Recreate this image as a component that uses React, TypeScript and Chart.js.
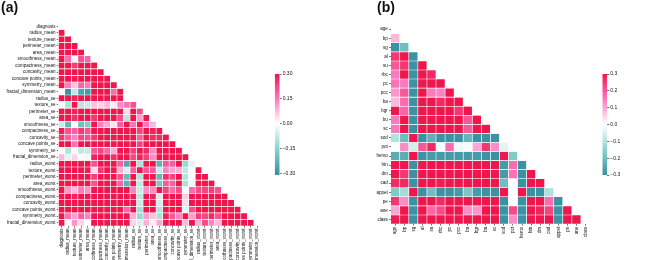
import React, { useEffect, useRef } from "react";
import { Chart, registerables } from "chart.js";

Chart.register(...registerables);

const breastLabels = ["diagnosis","radius_mean","texture_mean","perimeter_mean","area_mean","smoothness_mean","compactness_mean","concavity_mean","concave points_mean","symmetry_mean","fractal_dimension_mean","radius_se","texture_se","perimeter_se","area_se","smoothness_se","compactness_se","concavity_se","concave points_se","symmetry_se","fractal_dimension_se","radius_worst","texture_worst","perimeter_worst","area_worst","smoothness_worst","compactness_worst","concavity_worst","concave points_worst","symmetry_worst","fractal_dimension_worst"];

const breastRows: number[][] = [
  [],
  [.73],
  [.42,.32],
  [.74,1,.33],
  [.71,.99,.32,.99],
  [.36,.17,-.02,.21,.18],
  [.6,.51,.24,.56,.5,.66],
  [.7,.68,.3,.72,.69,.52,.88],
  [.78,.82,.29,.85,.82,.55,.83,.92],
  [.33,.15,.07,.18,.15,.56,.6,.5,.46],
  [-.01,-.31,-.08,-.26,-.28,.58,.57,.34,.17,.48],
  [.57,.68,.28,.69,.73,.3,.5,.63,.7,.3,.0],
  [-.01,-.1,.39,-.09,-.07,.07,.05,.08,.02,.13,.16,.21],
  [.56,.67,.28,.69,.73,.3,.55,.66,.71,.31,.04,.97,.22],
  [.55,.74,.26,.74,.8,.25,.46,.62,.69,.22,-.09,.95,.11,.94],
  [-.07,-.22,.01,-.2,-.17,.33,.14,.1,.03,.19,.4,.16,.4,.15,.08],
  [.29,.21,.19,.25,.21,.32,.74,.67,.49,.42,.56,.36,.23,.42,.28,.34],
  [.25,.19,.14,.23,.21,.25,.57,.69,.44,.34,.45,.33,.19,.36,.27,.27,.8],
  [.41,.38,.16,.41,.37,.38,.64,.68,.62,.39,.34,.51,.23,.56,.42,.33,.74,.77],
  [-.01,-.1,.01,-.08,-.07,.2,.23,.18,.1,.45,.35,.24,.41,.27,.13,.41,.39,.31,.31],
  [.08,-.04,.05,-.01,-.02,.28,.51,.45,.26,.33,.69,.23,.28,.24,.13,.43,.8,.73,.61,.37],
  [.78,.97,.35,.97,.96,.21,.54,.69,.83,.19,-.25,.72,-.11,.7,.76,-.23,.2,.19,.36,-.13,-.04],
  [.46,.3,.91,.3,.29,.04,.25,.3,.29,.09,-.05,.19,.41,.2,.2,-.07,.14,.1,.09,-.08,-.0,.36],
  [.78,.97,.36,.97,.96,.24,.59,.73,.86,.22,-.21,.72,-.1,.72,.76,-.22,.26,.23,.39,-.1,-.0,.99,.37],
  [.73,.94,.34,.94,.96,.21,.51,.68,.81,.18,-.23,.75,-.08,.73,.81,-.18,.2,.19,.34,-.11,-.02,.98,.35,.98],
  [.42,.12,.08,.15,.12,.81,.57,.45,.45,.43,.5,.14,-.07,.13,.13,.31,.23,.17,.22,-.01,.17,.22,.23,.24,.21],
  [.59,.41,.28,.46,.39,.47,.87,.75,.67,.47,.46,.29,-.09,.34,.28,-.06,.68,.48,.45,.06,.39,.48,.36,.53,.44,.57],
  [.66,.53,.3,.56,.51,.43,.82,.88,.75,.43,.35,.38,-.07,.42,.39,-.06,.64,.66,.55,.04,.38,.57,.37,.62,.54,.52,.89],
  [.79,.74,.3,.77,.72,.5,.82,.86,.91,.43,.18,.53,-.12,.55,.54,-.1,.48,.44,.6,-.03,.22,.79,.36,.82,.75,.55,.8,.86],
  [.42,.16,.11,.19,.14,.39,.51,.41,.38,.7,.33,.09,-.13,.11,.07,-.11,.28,.2,.14,.39,.11,.24,.23,.27,.21,.49,.61,.53,.5],
  [.32,.01,.12,.05,.0,.5,.69,.51,.37,.44,.77,.05,-.05,.09,.02,.1,.59,.44,.31,.08,.59,.09,.22,.14,.08,.62,.81,.69,.51,.54],
];

const kidneyLabels = ["age","bp","sg","al","su","rbc","pc","pcc","ba","bgr","bu","sc","sod","pot","hemo","htn","dm","cad","appet","pe","ane","class"];

const kidneyRows: number[][] = [
  [],
  [.08],
  [-.3,-.2],
  [.25,.3,-.3],
  [.2,.25,-.3,.3],
  [.15,.3,-.3,.3,.27],
  [.16,.15,-.3,.3,.3,.3],
  [.12,.2,-.3,.3,.15,.14,.3],
  [.08,.17,-.3,.3,.3,.27,.3,.3],
  [.3,.18,-.3,.3,.3,.3,.3,.25,.3],
  [.15,.3,-.3,.3,.3,.3,.3,.3,.2,.3],
  [.15,.3,-.3,.3,.3,.3,.3,.3,.2,.3,.3],
  [-.1,-.2,.3,-.3,-.23,-.3,-.3,-.3,-.22,-.3,-.3,-.3],
  [0,.13,-.06,.2,.27,-.01,.17,-.02,-.01,.1,.25,.13,-.04],
  [-.24,-.24,.3,-.3,-.28,-.28,-.28,-.28,-.28,-.28,-.3,-.3,.3,-.17],
  [.3,.3,-.3,.3,.3,.3,.3,.3,.3,.3,.3,.3,-.28,.17,-.3],
  [.3,.25,-.3,.3,.3,.3,.3,.3,.3,.3,.3,.3,-.28,.16,-.3,.3],
  [.27,.27,-.3,.3,.3,.29,.3,.3,.3,.3,.3,.3,-.2,0,-.3,.3,.3],
  [-.17,-.12,.3,-.3,-.2,-.3,-.3,-.28,-.18,-.28,-.3,-.3,.3,0,.3,-.3,-.3,-.1],
  [.25,.13,-.3,.3,.3,.27,.3,.3,.3,.3,.3,.3,-.3,0,-.3,.3,.3,.17,-.3],
  [.1,.3,-.3,.3,.18,.22,.3,.3,.13,.12,.3,.3,-.3,.22,-.3,.3,.28,.23,-.3,.3],
  [.29,.3,-.3,.3,.3,.3,.3,.3,.3,.3,.3,.3,-.3,.13,-.3,.3,.3,.3,-.3,.3,.3],
];

const breastBarTicks = [-0.3, -0.15, 0, 0.15, 0.3];
const kidneyBarTicks = [-0.3, -0.2, -0.1, 0, 0.1, 0.2, 0.3];

type RGB = [number, number, number];
const paletteStops: [number, RGB][] = [
  [-0.3, [58, 146, 163]],
  [-0.15, [140, 212, 204]],
  [0, [255, 255, 255]],
  [0.15, [251, 122, 190]],
  [0.3, [238, 22, 76]],
];

function colorFor(v: number): string {
  const c = Math.max(-0.3, Math.min(0.3, v));
  for (let k = 0; k < paletteStops.length - 1; k++) {
    const [a, ca] = paletteStops[k];
    const [b, cb] = paletteStops[k + 1];
    if (c <= b) {
      const t = (c - a) / (b - a);
      const m = ca.map((x, n) => Math.round(x + (cb[n] - x) * t));
      return `rgb(${m[0]},${m[1]},${m[2]})`;
    }
  }
  return "rgb(238,22,76)";
}

const FONT = "'Liberation Sans', Arial, sans-serif";
const INK = "#111111";

function heatmapConfig(labels: string[], rows: number[][], axisW: number, axisH: number, fontSize: number, pad: any): any {
  const datasets = rows.map((row, i) => ({
    data: labels.map((_, j) => (j < row.length ? [i, i + 1] : null)),
    backgroundColor: labels.map((_, j) => (j < row.length ? colorFor(row[j]) : "rgba(0,0,0,0)")),
    borderColor: "#ffffff",
    borderWidth: 0.3,
    borderSkipped: false,
    inflateAmount: 0,
    barPercentage: 1,
    categoryPercentage: 1,
  }));
  const tickStyle = { drawOnChartArea: false, drawTicks: true, tickLength: 1.6, tickWidth: 0.6, color: INK, offset: false };
  return {
    type: "bar",
    data: { labels, datasets },
    options: {
      responsive: false,
      animation: false,
      events: [],
      layout: { padding: pad },
      plugins: { legend: { display: false }, tooltip: { enabled: false }, title: { display: false } },
      scales: {
        x: {
          type: "category",
          stacked: true,
          grid: tickStyle,
          border: { display: false },
          ticks: { autoSkip: false, minRotation: 90, maxRotation: 90, padding: 1, color: INK, font: { family: FONT, size: fontSize } },
          afterFit: (s: any) => { s.height = axisH; s.paddingLeft = 0; s.paddingRight = 0; },
        },
        y: {
          type: "linear",
          stacked: false,
          reverse: true,
          min: 0,
          max: labels.length,
          grid: tickStyle,
          border: { display: false },
          afterBuildTicks: (s: any) => { s.ticks = labels.map((_, i) => ({ value: i + 0.5 })); },
          ticks: {
            autoSkip: false,
            padding: 1.2,
            color: INK,
            font: { family: FONT, size: fontSize },
            callback: (v: number) => labels[Math.floor(v)],
          },
          afterFit: (s: any) => { s.width = axisW; s.paddingTop = 0; s.paddingBottom = 0; },
        },
      },
    },
  };
}

function colorbarConfig(tickVals: number[], min: number, decimals: number, pad: any): any {
  const fill = (ctx: any) => {
    const a = ctx.chart.chartArea;
    if (!a) return "#fff";
    const g = ctx.chart.ctx.createLinearGradient(0, a.bottom, 0, a.top);
    const max = 0.3;
    const pos = (v: number) => (v - min) / (max - min);
    g.addColorStop(0, colorFor(min));
    paletteStops.forEach(([v]) => g.addColorStop(pos(v), colorFor(v)));
    return g;
  };
  return {
    type: "bar",
    data: {
      labels: [""],
      datasets: [{ data: [[min, 0.3]], backgroundColor: fill, borderWidth: 0, inflateAmount: 0, barPercentage: 1, categoryPercentage: 1 }],
    },
    options: {
      responsive: false,
      animation: false,
      events: [],
      layout: { padding: pad },
      plugins: { legend: { display: false }, tooltip: { enabled: false } },
      scales: {
        x: { display: false },
        y: {
          position: "right",
          min,
          max: 0.3,
          grid: { drawOnChartArea: false, drawTicks: true, tickLength: 2, tickWidth: 0.6, color: INK },
          border: { display: false },
          afterBuildTicks: (s: any) => { s.ticks = tickVals.map((value) => ({ value })); },
          ticks: {
            padding: 1,
            color: INK,
            font: { family: FONT, size: 5 },
            callback: (v: number) => (Math.abs(v) < 1e-9 ? (0).toFixed(decimals) : v.toFixed(decimals).replace("-", "\u2212")),
          },
          afterFit: (s: any) => { s.width = 22; s.paddingTop = 0; s.paddingBottom = 0; },
        },
      },
    },
  };
}

const canvasAbs = (left: number, top: number): React.CSSProperties => ({ position: "absolute", left, top });

const titleStyle = (left: number): React.CSSProperties => ({
  position: "absolute",
  left,
  top: -1,
  font: `bold 14px ${FONT}`,
  color: "#111",
  lineHeight: "16px",
});

export default function App() {
  const a = useRef<HTMLCanvasElement>(null);
  const b = useRef<HTMLCanvasElement>(null);
  const ca = useRef<HTMLCanvasElement>(null);
  const cb = useRef<HTMLCanvasElement>(null);

  useEffect(() => {
    const charts = [
      new Chart(a.current!, heatmapConfig(breastLabels, breastRows, 58.3, 74, 4.5, { top: 23, right: 1.6, left: 0, bottom: 0 })),
      new Chart(b.current!, heatmapConfig(kidneyLabels, kidneyRows, 50.7, 76, 4.6, { top: 24.7, right: 2, left: 0, bottom: 0 })),
      new Chart(ca.current!, colorbarConfig(breastBarTicks, -0.31, 2, { top: 14, bottom: 15, left: 6.7, right: 6.3 })),
      new Chart(cb.current!, colorbarConfig(kidneyBarTicks, -0.3, 1, { top: 14, bottom: 15, left: 6.3, right: 6.7 })),
    ];
    return () => charts.forEach((c) => c.destroy());
  }, []);

  return (
    <div style={{ position: "fixed", left: 0, top: 0, width: 672, height: 260, overflow: "hidden", background: "#fff" }}>
      <canvas ref={a} width={262} height={300} style={canvasAbs(0, 0)} />
      <canvas ref={b} width={252} height={300} style={canvasAbs(340, 0)} />
      <canvas ref={ca} width={40} height={130} style={canvasAbs(268, 60)} />
      <canvas ref={cb} width={40} height={130} style={canvasAbs(596, 60)} />
      <div style={titleStyle(1)}>(a)</div>
      <div style={titleStyle(377)}>(b)</div>
    </div>
  );
}
